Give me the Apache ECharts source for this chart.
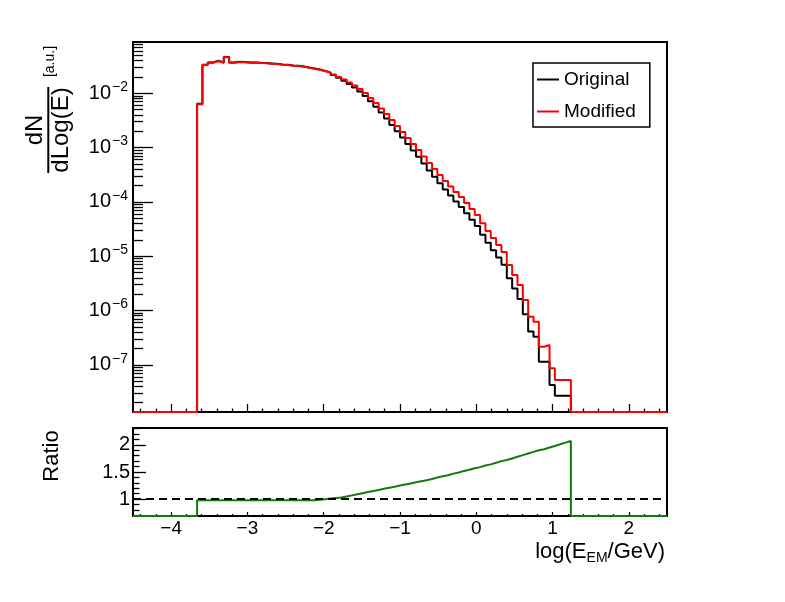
<!DOCTYPE html>
<html>
<head>
<meta charset="utf-8">
<script src="https://cdn.jsdelivr.net/npm/echarts@6/dist/echarts.min.js"></script>
<style>
  html, body { margin: 0; padding: 0; background: #fff; }
  #chart { width: 785px; height: 602px; }
</style>
</head>
<body>
<div id="chart"></div>
<script>
// histogram binning: 100 bins from -4.5 to 2.5, filled from bin 12 to bin 81
var binLow = -4.5, binWidth = 0.07, nBins = 100, firstBin = 12;

// dN/dLog(E), one value per filled bin
var original = [
  6.4e-3, 3.35e-2, 3.70e-2, 3.97e-2, 3.70e-2, 4.65e-2, 3.70e-2, 3.81e-2, 3.76e-2, 3.70e-2,
  3.70e-2, 3.65e-2, 3.61e-2, 3.55e-2, 3.49e-2, 3.39e-2, 3.35e-2, 3.25e-2, 3.21e-2, 3.12e-2,
  2.99e-2, 2.87e-2, 2.75e-2, 2.57e-2, 2.40e-2, 2.18e-2, 1.94e-2, 1.71e-2, 1.48e-2, 1.28e-2,
  1.08e-2, 8.94e-3, 7.12e-3, 5.67e-3, 4.41e-3, 3.44e-3, 2.62e-3, 2.00e-3, 1.53e-3, 1.16e-3,
  8.85e-4, 6.79e-4, 5.08e-4, 3.80e-4, 2.89e-4, 2.20e-4, 1.69e-4, 1.31e-4, 1.02e-4, 8.09e-5,
  6.19e-5, 4.71e-5, 3.61e-5, 2.49e-5, 1.77e-5, 1.29e-5, 9.47e-6, 6.92e-6, 3.93e-6, 2.53e-6,
  1.63e-6, 8.48e-7, 4.11e-7, 3.27e-7, 1.14e-7, 1.14e-7, 4.25e-8, 2.70e-8, 2.70e-8, 2.70e-8
];
var modified = [
  6.3e-3, 3.32e-2, 3.66e-2, 3.93e-2, 3.66e-2, 4.60e-2, 3.66e-2, 3.77e-2, 3.72e-2, 3.66e-2,
  3.66e-2, 3.61e-2, 3.57e-2, 3.51e-2, 3.46e-2, 3.36e-2, 3.32e-2, 3.22e-2, 3.18e-2, 3.09e-2,
  2.96e-2, 2.84e-2, 2.72e-2, 2.57e-2, 2.42e-2, 2.22e-2, 2.00e-2, 1.80e-2, 1.58e-2, 1.39e-2,
  1.20e-2, 1.01e-2, 8.19e-3, 6.63e-3, 5.25e-3, 4.16e-3, 3.22e-3, 2.50e-3, 1.94e-3, 1.50e-3,
  1.16e-3, 9.03e-4, 6.86e-4, 5.20e-4, 4.04e-4, 3.13e-4, 2.43e-4, 1.92e-4, 1.52e-4, 1.23e-4,
  9.54e-5, 7.40e-5, 5.74e-5, 4.04e-5, 2.91e-5, 2.16e-5, 1.61e-5, 1.19e-5, 6.88e-6, 4.51e-6,
  2.95e-6, 1.56e-6, 7.69e-7, 6.22e-7, 2.15e-7, 2.31e-7, 8.62e-8, 5.25e-8, 5.25e-8, 5.25e-8
];
// Modified / Original as drawn in the lower pad
var ratio = [
  0.98, 0.98, 0.98, 0.98, 0.98, 0.98, 0.98, 0.98, 0.98, 0.98,
  0.98, 0.98, 0.98, 0.98, 0.98, 0.98, 0.98, 0.98, 0.98, 0.98,
  0.98, 0.98, 0.99, 1.00, 1.01, 1.02, 1.03, 1.05, 1.07, 1.09,
  1.11, 1.13, 1.15, 1.17, 1.19, 1.21, 1.23, 1.25, 1.27, 1.29,
  1.31, 1.33, 1.35, 1.37, 1.40, 1.42, 1.44, 1.47, 1.49, 1.52,
  1.54, 1.57, 1.59, 1.62, 1.64, 1.67, 1.70, 1.72, 1.75, 1.78,
  1.81, 1.84, 1.87, 1.90, 1.92, 1.95, 1.98, 2.01, 2.04, 2.07
];

var xMajor = [-4, -3, -2, -1, 0, 1, 2];
var yDecades = [-7, -6, -5, -4, -3, -2];
var ratioMajor = [1, 1.5, 2];

var xMin = -4.5, xMax = 2.5;
var logMin = -7.87, logMax = -1.055;
var ratioMin = 0.69, ratioMax = 2.31;

var font = 'Liberation Sans';

// step points at the left edge of each bin, empty bins sit on the floor
function histPoints(vals, toY, floor) {
  var pts = [];
  for (var i = 0; i < nBins; i++) {
    var k = i - firstBin;
    var v = (k >= 0 && k < vals.length) ? vals[k] : 0;
    pts.push([binLow + i * binWidth, v > 0 ? toY(v) : floor]);
  }
  pts.push([binLow + nBins * binWidth, pts[nBins - 1][1]]);
  return pts;
}
function log10(v) { return Math.log(v) / Math.LN10; }
function same(v) { return v; }

// minor tick positions
var xMinor = [];
for (var t = -22; t <= 12; t++) {
  if (t % 5 !== 0) xMinor.push(t * 0.2);
}
var yMinor = [];
for (var n = -8; n <= -2; n++) {
  for (var m = 2; m <= 9; m++) {
    var lv = n + log10(m);
    if (lv > logMin && lv < logMax) yMinor.push(lv);
  }
}
var rMinor = [];
for (var r = 7; r <= 23; r++) {
  if (r % 5 !== 0) rMinor.push(r / 10);
}

function tickAxis(grid, pos, min, max, ticks, len, extra) {
  var ax = {
    type: 'value', gridIndex: grid, position: pos, min: min, max: max,
    axisLine: { show: false, onZero: false },
    splitLine: { show: false },
    axisTick: { show: true, inside: true, length: len, customValues: ticks,
      lineStyle: { color: '#000', width: 1.3 } },
    axisLabel: { show: false }
  };
  if (extra) ax.axisLabel = extra;
  return ax;
}

var chart = echarts.init(document.getElementById('chart'));

var option = {
  animation: false,
  backgroundColor: '#fff',
  textStyle: { fontFamily: font },
  grid: [
    { left: 133, top: 42, width: 534, height: 370, show: true, borderColor: '#000', borderWidth: 2, backgroundColor: 'transparent' },
    { left: 133, top: 428, width: 534, height: 88, show: true, borderColor: '#000', borderWidth: 2, backgroundColor: 'transparent' }
  ],
  xAxis: [
    tickAxis(0, 'bottom', xMin, xMax, xMajor, 8),
    tickAxis(0, 'bottom', xMin, xMax, xMinor, 3.5),
    tickAxis(1, 'bottom', xMin, xMax, xMajor, 4, {
      show: true, customValues: xMajor, margin: 3, color: '#000', fontSize: 19, fontFamily: font,
      formatter: function (v) { return v < 0 ? '\u2212' + (-v) : String(v); }
    }),
    tickAxis(1, 'bottom', xMin, xMax, xMinor, 2)
  ],
  yAxis: [
    tickAxis(0, 'left', logMin, logMax, yDecades, 20, {
      show: true, customValues: yDecades, margin: 5, color: '#000', fontFamily: font,
      formatter: function (v) { return '{b|10}{e|\u2212' + (-v) + '}'; },
      rich: {
        b: { fontSize: 20, fontFamily: font, color: '#000' },
        e: { fontSize: 14, fontFamily: font, color: '#000', padding: [0, 0, 12, 1] }
      }
    }),
    tickAxis(0, 'left', logMin, logMax, yMinor, 10),
    tickAxis(1, 'left', ratioMin, ratioMax, ratioMajor, 13, {
      show: true, customValues: ratioMajor, margin: 3, color: '#000', fontSize: 20, fontFamily: font,
      formatter: function (v) { return String(v); }
    }),
    tickAxis(1, 'left', ratioMin, ratioMax, rMinor, 6.5)
  ],
  legend: {
    orient: 'vertical', left: 533, top: 63,
    data: ['Original', 'Modified'],
    icon: 'rect',
    borderColor: '#000', borderWidth: 1.5, borderRadius: 0,
    padding: [7, 14, 6, 4],
    itemGap: 13, itemWidth: 22, itemHeight: 2,
    textStyle: { fontSize: 19, fontFamily: font, color: '#000' }
  },
  series: [
    {
      name: 'Original', type: 'line', xAxisIndex: 0, yAxisIndex: 0,
      step: 'end', symbol: 'none', clip: false,
      color: '#000', lineStyle: { color: '#000', width: 2 },
      data: histPoints(original, log10, logMin)
    },
    {
      name: 'Modified', type: 'line', xAxisIndex: 0, yAxisIndex: 0,
      step: 'end', symbol: 'none', clip: false,
      color: '#ff0000', lineStyle: { color: '#ff0000', width: 2 },
      data: histPoints(modified, log10, logMin)
    },
    {
      name: 'Ratio', type: 'line', xAxisIndex: 2, yAxisIndex: 2,
      step: 'end', symbol: 'none', clip: false,
      color: '#117a11', lineStyle: { color: '#117a11', width: 2 },
      data: histPoints(ratio, same, ratioMin),
      markLine: {
        silent: true, symbol: 'none', label: { show: false },
        lineStyle: { color: '#000', width: 2, type: [8, 5] },
        data: [{ yAxis: 1 }]
      }
    }
  ],
  graphic: [
    {
      type: 'group', x: 48.3, y: 130, rotation: Math.PI / 2,
      children: [
        { type: 'text', x: 0, y: -13, style: { text: 'dN', font: '24px "Liberation Sans"', fill: '#000', align: 'center', verticalAlign: 'middle' } },
        { type: 'line', shape: { x1: -43, y1: 0, x2: 43, y2: 0 }, style: { stroke: '#000', lineWidth: 2 } },
        { type: 'text', x: 0, y: 13.5, style: { text: 'dLog(E)', font: '24px "Liberation Sans"', fill: '#000', align: 'center', verticalAlign: 'middle' } },
        { type: 'text', x: 68.5, y: 2, style: { text: '[a.u.]', font: '14px "Liberation Sans"', fill: '#000', align: 'center', verticalAlign: 'middle' } }
      ]
    },
    {
      type: 'text', x: 52, y: 456, rotation: Math.PI / 2,
      style: { text: 'Ratio', font: '22px "Liberation Sans"', fill: '#000', align: 'center', verticalAlign: 'middle' }
    },
    {
      type: 'text', x: 665, y: 552,
      style: {
        text: '{a|log(E}{s|EM}{a|/GeV)}', align: 'right', verticalAlign: 'middle',
        rich: {
          a: { fontSize: 22, fontFamily: font, fill: '#000', color: '#000' },
          s: { fontSize: 14, fontFamily: font, fill: '#000', color: '#000', padding: [12, 0, 0, 0] }
        }
      }
    }
  ]
};

chart.setOption(option);
</script>
</body>
</html>
